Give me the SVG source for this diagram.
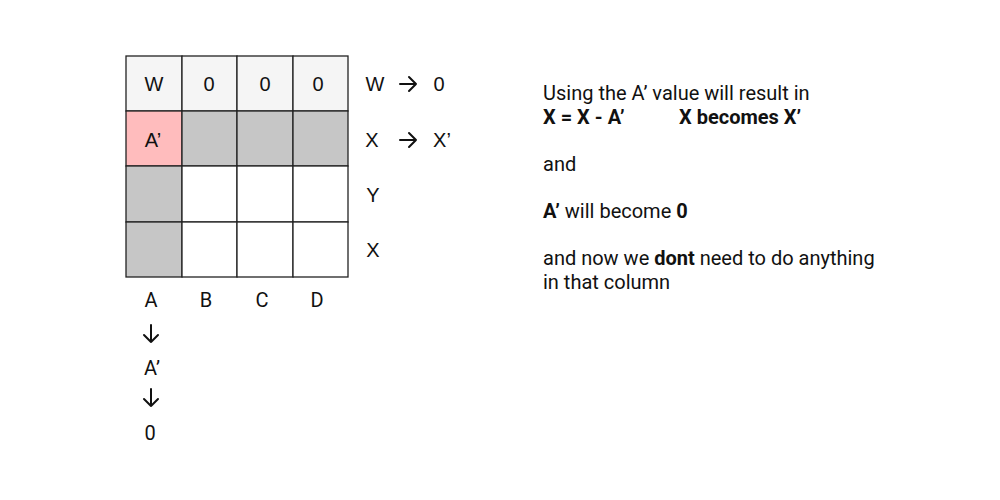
<svg xmlns="http://www.w3.org/2000/svg" width="1000" height="500" viewBox="0 0 1000 500">
<style>
.c{stroke:#222;stroke-width:1.3}
.t{font-family:"Liberation Sans",Arial,sans-serif;font-size:20px;fill:#111;text-anchor:middle;dominant-baseline:central}
.r{font-family:Roboto,"Liberation Sans",sans-serif;font-size:20px;fill:#111;text-anchor:middle;dominant-baseline:central}
.p{font-family:Roboto,"Liberation Sans",sans-serif;font-size:20px;fill:#111}
.b{font-weight:bold}
.a{stroke:#111;stroke-width:2;fill:none;stroke-linecap:round;stroke-linejoin:round}
</style>
<rect width="1000" height="500" fill="#fff"/>
<g id="grid">
<rect class="c" x="126" y="56" width="56" height="55" fill="#f5f5f5"/>
<rect class="c" x="182" y="56" width="55" height="55" fill="#f5f5f5"/>
<rect class="c" x="237" y="56" width="56" height="55" fill="#f5f5f5"/>
<rect class="c" x="293" y="56" width="55" height="55" fill="#f5f5f5"/>
<rect class="c" x="126" y="111" width="56" height="55" fill="#ffbcbd"/>
<rect class="c" x="182" y="111" width="55" height="55" fill="#c6c6c6"/>
<rect class="c" x="237" y="111" width="56" height="55" fill="#c6c6c6"/>
<rect class="c" x="293" y="111" width="55" height="55" fill="#c6c6c6"/>
<rect class="c" x="126" y="166" width="56" height="56" fill="#c6c6c6"/>
<rect class="c" x="182" y="166" width="55" height="56" fill="#fff"/>
<rect class="c" x="237" y="166" width="56" height="56" fill="#fff"/>
<rect class="c" x="293" y="166" width="55" height="56" fill="#fff"/>
<rect class="c" x="126" y="222" width="56" height="55" fill="#c6c6c6"/>
<rect class="c" x="182" y="222" width="55" height="55" fill="#fff"/>
<rect class="c" x="237" y="222" width="56" height="55" fill="#fff"/>
<rect class="c" x="293" y="222" width="55" height="55" fill="#fff"/>
<text class="t" x="154" y="84">W</text>
<text class="t" x="209" y="84">0</text>
<text class="t" x="265" y="84">0</text>
<text class="t" x="318" y="84">0</text>
<text class="t" x="153" y="140">A’</text>
</g>
<g id="row-labels">
<text class="t" x="375" y="84">W</text>
<text class="t" x="439" y="84">0</text>
<text class="t" x="372" y="140">X</text>
<text class="t" x="442" y="140">X’</text>
<text class="t" x="373" y="195">Y</text>
<text class="t" x="373" y="250">X</text>
</g>
<g id="col-labels">
<text class="r" x="151" y="300">A</text>
<text class="r" x="206" y="300">B</text>
<text class="r" x="262" y="300">C</text>
<text class="r" x="317" y="300">D</text>
<text class="r" x="152" y="368">A’</text>
<text class="r" x="150" y="433">0</text>
</g>
<g id="connectors">
<path class="a" d="M400 84 H416 M409 77 L416 84 L409 91"/>
<path class="a" d="M400 140 H416 M409 133 L416 140 L409 147"/>
<path class="a" d="M151 325 V342 M144 335 L151 342 L158 335"/>
<path class="a" d="M151 389 V406 M144 399 L151 406 L158 399"/>
</g>
<g id="note">
<text class="p" x="543" y="100">Using the A’ value will result in</text>
<text class="p b" x="543" y="124">X = X - A’</text>
<text class="p b" x="679" y="124">X becomes X’</text>
<text class="p" x="543" y="171">and</text>
<text class="p" x="543" y="218"><tspan class="b">A’</tspan> will become <tspan class="b">0</tspan></text>
<text class="p" x="543" y="265">and now we <tspan class="b">dont</tspan> need to do anything</text>
<text class="p" x="543" y="289">in that column</text>
</g>
</svg>
